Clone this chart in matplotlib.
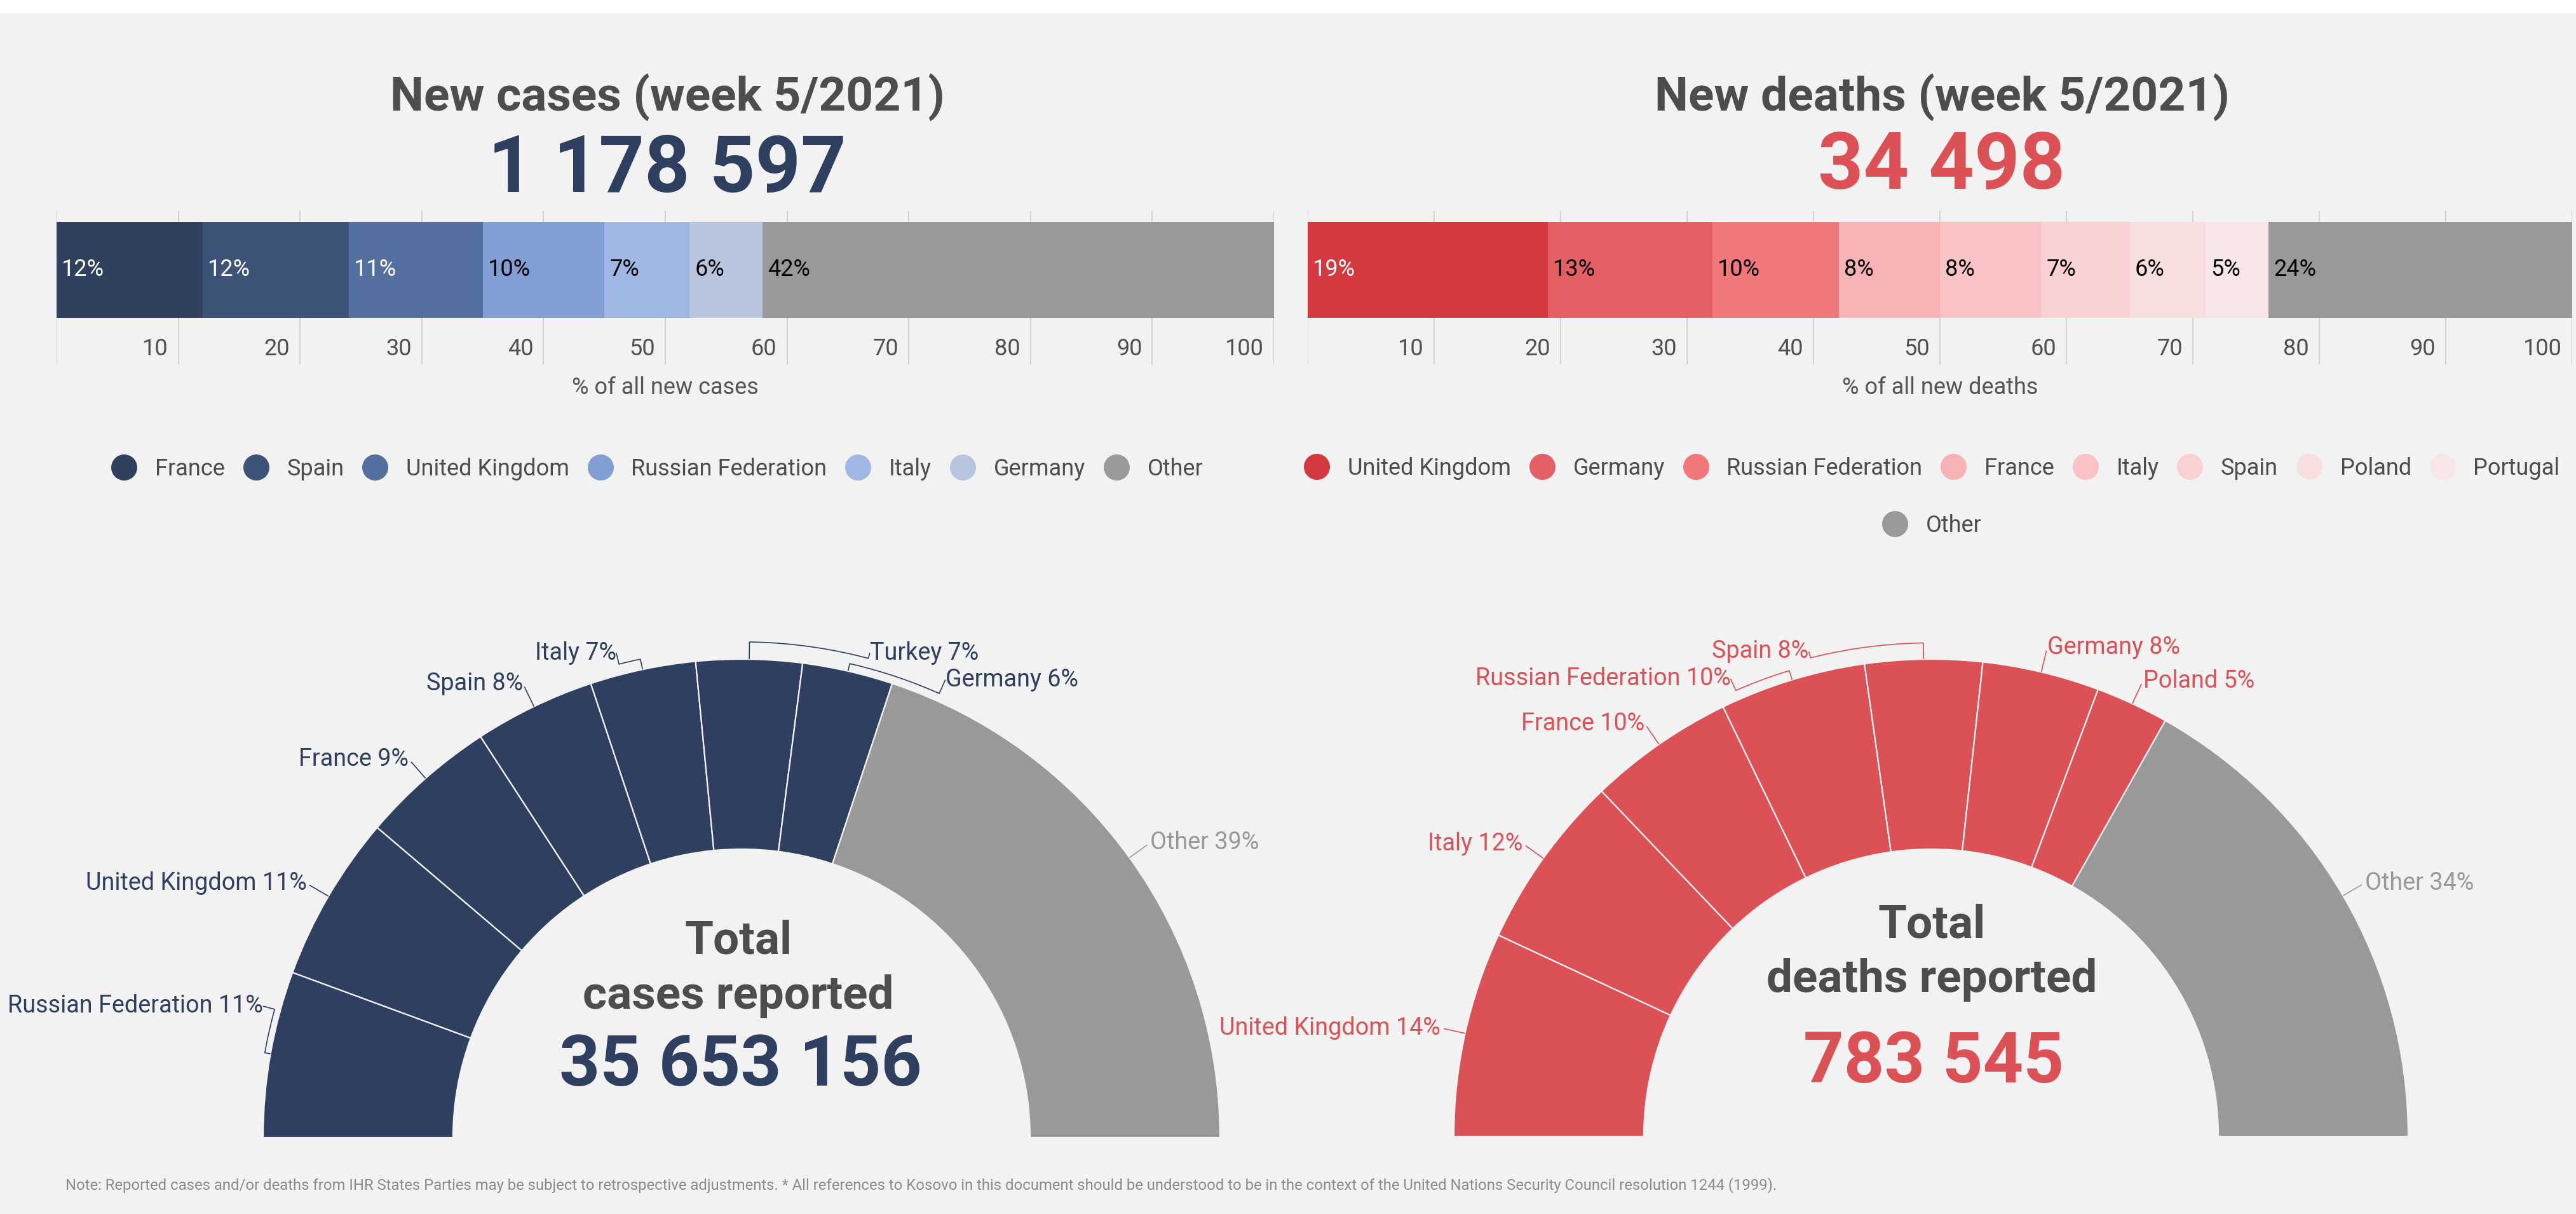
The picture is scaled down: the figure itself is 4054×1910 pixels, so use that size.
import matplotlib
matplotlib.use("Agg")
import matplotlib.pyplot as plt
from matplotlib.lines import Line2D
from matplotlib.patches import Rectangle
import numpy as np

# ---------------- data ----------------
cases_week_title = "New cases (week 5/2021)"
cases_week_total = "1 178 597"
deaths_week_title = "New deaths (week 5/2021)"
deaths_week_total = "34 498"

cases_bar_countries = ["France", "Spain", "United Kingdom", "Russian Federation",
                       "Italy", "Germany", "Other"]
cases_bar_pct = [12, 12, 11, 10, 7, 6, 42]

deaths_bar_countries = ["United Kingdom", "Germany", "Russian Federation", "France",
                        "Italy", "Spain", "Poland", "Portugal", "Other"]
deaths_bar_pct = [19, 13, 10, 8, 8, 7, 6, 5, 24]

bar_ticks = [10, 20, 30, 40, 50, 60, 70, 80, 90, 100]
cases_bar_xlabel = "% of all new cases"
deaths_bar_xlabel = "% of all new deaths"

cases_total_countries = ["Russian Federation", "United Kingdom", "France", "Spain",
                         "Italy", "Turkey", "Germany", "Other"]
cases_total_pct = [11, 11, 9, 8, 7, 7, 6, 39]
deaths_total_countries = ["United Kingdom", "Italy", "France", "Russian Federation",
                          "Spain", "Germany", "Poland", "Other"]
deaths_total_pct = [14, 12, 10, 10, 8, 8, 5, 34]

cases_center_title = ["Total", "cases reported"]
cases_total_reported = "35 653 156"
deaths_center_title = ["Total", "deaths reported"]
deaths_total_reported = "783 545"

footnote = ("Note: Reported cases and/or deaths from IHR States Parties may be subject to "
            "retrospective adjustments. * All references to Kosovo in this document should be "
            "understood to be in the context of the United Nations Security Council resolution 1244 (1999).")

# ---------------- styles ----------------
W, H, DPI = 4054, 1910, 100
BG = "#f2f2f2"
GREY = "#999999"
NAVY = "#2f3f5f"
RED = "#dc5155"
TXT = "#4d4d4d"

cases_colors = ["#30415f", "#3e5378", "#5370a1", "#819fd4", "#9fb7e3", "#b7c5de", GREY]
cases_txt = ["white", "white", "white", "black", "black", "black", "black"]
deaths_colors = ["#d3393e", "#e46064", "#f0787b", "#f6b2b4", "#f9c3c5", "#fad1d3",
                 "#f7dfe0", "#f8e5e5", GREY]
deaths_txt = ["white"] + ["black"] * 8

plt.rcParams['font.family'] = ['Roboto', 'DejaVu Sans']

fig = plt.figure(figsize=(W / DPI, H / DPI), dpi=DPI, facecolor=BG)


def fx(px):
    return px / W


def fy(py):
    return 1 - py / H


fig.add_artist(Rectangle((0, fy(21)), 1, 21 / H, transform=fig.transFigure,
                         facecolor="white", edgecolor="none", zorder=0))

# ---------------- headers ----------------
for cx, title, num, numc, nbase in [(1050, cases_week_title, cases_week_total, NAVY, 302),
                                    (3056, deaths_week_title, deaths_week_total, RED, 297)]:
    fig.text(fx(cx), fy(174), title, ha="center", va="baseline", fontsize=54,
             fontweight="bold", color=TXT)
    fig.text(fx(cx), fy(nbase), num, ha="center", va="baseline", fontsize=90,
             fontweight="bold", color=numc)


# ---------------- stacked bars ----------------
def bar_panel(x0, x1, pcts, colors, txtcolors, xlabel):
    top, bottom = 332, 573
    hgt = bottom - top
    ax = fig.add_axes([fx(x0), fy(bottom), (x1 - x0) / W, hgt / H])
    ax.set_facecolor("none")
    yb = (bottom - 500) / hgt
    yt = (bottom - 349) / hgt
    yc, bh = (yb + yt) / 2, yt - yb
    left = 0
    for p, c, tc in zip(pcts, colors, txtcolors):
        ax.barh(yc, p, left=left, height=bh, color=c, zorder=2, linewidth=0)
        ax.annotate(f"{p}%", (left, yc), xytext=(8, 0), textcoords="offset pixels",
                    ha="left", va="center", color=tc, fontsize=26, zorder=3)
        left += p
    ax.set_xlim(0, 100)
    ax.set_ylim(0, 1)
    ax.set_xticks(range(0, 101, 10))
    ax.set_yticks([])
    ax.grid(axis="x", color="#d3d3d3", lw=1.5, zorder=0)
    ax.set_axisbelow(True)
    ax.tick_params(length=0, labelbottom=False)
    for s in ax.spines.values():
        s.set_visible(False)
    ty = (bottom - 549) / hgt
    for t in bar_ticks:
        ax.annotate(str(t), (t, ty), xytext=(-16, 0), textcoords="offset pixels",
                    ha="right", va="center", fontsize=26, color="#505050")
    fig.text(fx((x0 + x1) / 2), fy(610), xlabel, ha="center", va="center",
             fontsize=26, color="#555555")


bar_panel(89, 2005, cases_bar_pct, cases_colors, cases_txt, cases_bar_xlabel)
bar_panel(2058, 4048, deaths_bar_pct, deaths_colors, deaths_txt, deaths_bar_xlabel)


# ---------------- legends ----------------
def legend_row(names, colors, cx, cy):
    handles = [Line2D([], [], marker="o", linestyle="none", markersize=29.5,
                      markerfacecolor=c, markeredgewidth=0) for c in colors]
    leg = fig.legend(handles, names, loc="center", bbox_to_anchor=(fx(cx), fy(cy)),
                     ncol=len(names), frameon=False, fontsize=26, labelcolor=TXT,
                     handlelength=1.14, handletextpad=0.78, columnspacing=0.78,
                     borderpad=0, borderaxespad=0)
    return leg


legend_row(cases_bar_countries, cases_colors, 1034, 738)
legend_row(deaths_bar_countries[:-1], deaths_colors[:-1], 3040, 737)
legend_row(deaths_bar_countries[-1:], deaths_colors[-1:], 3040, 827)


# ---------------- gauges ----------------
def gauge(cx, cy, R, r, names, pcts, color, lcolor, overrides):
    ax = fig.add_axes([fx(cx - R), fy(cy), 2 * R / W, R / H])
    ax.set_facecolor("none")
    total = sum(pcts)
    cols = [color] * (len(pcts) - 1) + [GREY]
    wedges, _ = ax.pie(pcts + [total], startangle=180, counterclock=False, radius=1,
                       colors=cols + [BG],
                       wedgeprops=dict(width=1 - r / R, edgecolor=BG, linewidth=1.6))
    wedges[-1].set_visible(False)
    ax.set_xlim(-1, 1)
    ax.set_ylim(0, 1)
    ax.set_aspect("auto")
    ax.axis("off")
    cum = 0
    for name, p in zip(names, pcts):
        mid = cum + p / 2
        cum += p
        th = 180 - 180 * mid / total
        tc = GREY if name == "Other" else lcolor
        label = f"{name} {p}%"
        if name in overrides:
            x, y, ha, dl = overrides[name]
            sx, sy = x, y
        else:
            rl = 1.053
            x, y = rl * np.cos(np.radians(th)), rl * np.sin(np.radians(th))
            ha = "right" if np.cos(np.radians(th)) < 0 else "left"
            dl = 0.02
            sx, sy = 1.046 * np.cos(np.radians(th)), 1.046 * np.sin(np.radians(th))
        ax.text(x, y, label, ha=ha, va="center", fontsize=27.2, color=tc, clip_on=False)
        ta = np.degrees(np.arctan2(sy, sx))
        arc = np.radians(np.linspace(ta, th, 40))
        xs = [sx] + list((1 + dl) * np.cos(arc)) + [np.cos(np.radians(th))]
        ys = [sy] + list((1 + dl) * np.sin(arc)) + [np.sin(np.radians(th))]
        ax.plot(xs, ys, color=tc, lw=1.2, clip_on=False, solid_capstyle="butt")
    return ax


cases_over = {
    "Russian Federation": (-1.0, 0.275, "right", 0.012),
    "Italy": (-0.262, 1.013, "right", 0.022),
    "Turkey": (0.268, 1.013, "left", 0.036),
    "Germany": (0.426, 0.957, "left", 0.016),
}
deaths_over = {
    "Russian Federation": (-0.420, 0.959, "right", 0.02),
    "Spain": (-0.256, 1.016, "right", 0.034),
}
gauge(1167, 1790, 753, 454, cases_total_countries, cases_total_pct, NAVY, NAVY, cases_over)
gauge(3039, 1788, 751, 452, deaths_total_countries, deaths_total_pct, RED, RED, deaths_over)

# center texts
for cx, lines, bases, num, nbase, ncol, nsize in [
        (1162, cases_center_title, (1500, 1587), cases_total_reported, 1708, NAVY, 80.8),
        (3040, deaths_center_title, (1475, 1561), deaths_total_reported, 1703, RED, 80)]:
    for ln, b in zip(lines, bases):
        fig.text(fx(cx), fy(b), ln, ha="center", va="baseline", fontsize=52.5,
                 fontweight="bold", color=TXT)
    fig.text(fx(cx + 3), fy(nbase), num, ha="center", va="baseline", fontsize=nsize,
             fontweight="bold", color=ncol)

fig.text(fx(103), fy(1865), footnote, ha="left", va="center", fontsize=17.2, color="#8c8c8c")

fig.savefig("out.png", dpi=DPI, facecolor=BG)
